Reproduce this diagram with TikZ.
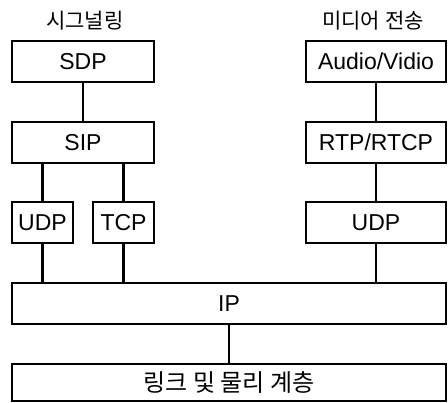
\documentclass[tikz,border=0pt]{standalone}
\usepackage{fontspec}
\setmainfont{Liberation Sans}
\newfontfamily\kr{Noto Sans CJK KR}
\begin{document}
\begin{tikzpicture}[x=1pt,y=1pt,
  box/.style={draw=black, line width=1.1pt, inner sep=0pt, font=\fontsize{23}{25}\selectfont},
  title/.style={inner sep=0pt, font=\kr\fontsize{21}{23}\selectfont},
  conn/.style={line width=2.2pt}]
\useasboundingbox (0,0) rectangle (448,-403);
% titles
\node[title] (t1) at (85,-21) {시그널링};
\node[title] (t2) at (373,-21) {미디어 전송};
% left column
\node[box, minimum width=142, minimum height=41] (sdp) at (83,-61.5) {SDP};
\node[box, minimum width=142, minimum height=41] (sip) at (83,-142.5) {SIP};
\node[box, minimum width=61, minimum height=41] (udpl) at (42.5,-222.5) {UDP};
\node[box, minimum width=61, minimum height=41] (tcp) at (123.5,-222.5) {TCP};
% right column
\node[box, minimum width=140, minimum height=41] (av) at (376,-61.5) {Audio/Vidio};
\node[box, minimum width=140, minimum height=41] (rtp) at (376,-142.5) {RTP/RTCP};
\node[box, minimum width=140, minimum height=41] (udpr) at (376,-222.5) {UDP};
% bottom
\node[box, minimum width=434, minimum height=41] (ip) at (229,-303.5) {IP};
\node[box, minimum width=434, minimum height=37, font=\kr\fontsize{24}{26}\selectfont] (link) at (229,-382.5) {링크 및 물리 계층};
% connectors
\draw[conn] (sdp) -- (sip);
\draw[conn] (sip.south -| udpl.north) -- (udpl.north);
\draw[conn] (sip.south -| tcp.north) -- (tcp.north);
\draw[conn] (udpl.south) -- (udpl.south |- ip.north);
\draw[conn] (tcp.south) -- (tcp.south |- ip.north);
\draw[conn] (av) -- (rtp);
\draw[conn] (rtp) -- (udpr);
\draw[conn] (udpr.south) -- (udpr.south |- ip.north);
\draw[conn] (ip) -- (link);
\end{tikzpicture}
\end{document}
